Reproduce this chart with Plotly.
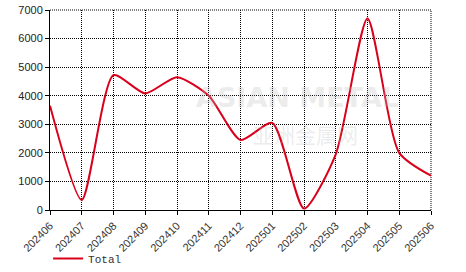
import plotly.graph_objects as go

months = ["202406", "202407", "202408", "202409", "202410", "202411", "202412",
          "202501", "202502", "202503", "202504", "202505", "202506"]
total = [3650, 350, 4720, 4080, 4650, 4000, 2450, 3050, 50, 1950, 6700, 2000, 1200]
y_ticks = [0, 1000, 2000, 3000, 4000, 5000, 6000, 7000]

fig = go.Figure()
fig.add_trace(go.Scatter(
    x=months, y=total, mode="lines", name="Total",
    line=dict(color="#d9001b", width=2, shape="spline", smoothing=0.65),
))

fig.add_annotation(text="ASIAN METAL", x=0.65, y=0.56, xref="paper", yref="paper",
                   xanchor="center", yanchor="middle",
                   showarrow=False, font=dict(size=27, color="rgba(190,190,190,0.3)",
                                              family="DejaVu Sans", weight="bold"))
fig.add_annotation(text="亚洲金属网", x=0.67, y=0.38, xref="paper", yref="paper",
                   xanchor="center", yanchor="middle",
                   showarrow=False, font=dict(size=21, color="rgba(190,190,190,0.28)",
                                              family="Noto Sans CJK SC"))

dot = "1px,1px"
fig.add_shape(type="line", xref="paper", yref="paper", x0=0, x1=1, y0=1, y1=1,
              line=dict(color="#000", width=1, dash=dot), layer="below")
fig.add_shape(type="line", xref="paper", yref="paper", x0=1, x1=1, y0=0, y1=1,
              line=dict(color="#000", width=1, dash=dot), layer="below")

fig.update_layout(
    width=466, height=272,
    margin=dict(l=50, r=35, t=10, b=62, autoexpand=False),
    paper_bgcolor="white", plot_bgcolor="white",
    showlegend=True,
    legend=dict(x=-0.005, y=-0.17, xanchor="left", yanchor="top", orientation="h",
                itemwidth=30,
                font=dict(family="Liberation Mono, Courier New, monospace", size=11, color="#333"),
                bgcolor="rgba(0,0,0,0)"),
    xaxis=dict(
        type="category", range=[0, 12], tickangle=-45, automargin=False,
        showgrid=True, gridcolor="#000", griddash=dot, gridwidth=1,
        showline=True, linecolor="#000", linewidth=1,
        ticks="outside", ticklen=4, tickcolor="#000",
        tickfont=dict(family="Arial", size=11, color="#333"),
    ),
    yaxis=dict(
        range=[0, 7000], tickvals=y_ticks, automargin=False,
        showgrid=True, gridcolor="#000", griddash=dot, gridwidth=1,
        showline=True, linecolor="#000", linewidth=1,
        ticks="outside", ticklen=4, tickcolor="#000",
        tickfont=dict(family="Arial", size=11, color="#222"),
        zeroline=False,
    ),
)

fig.write_html("out.html")
